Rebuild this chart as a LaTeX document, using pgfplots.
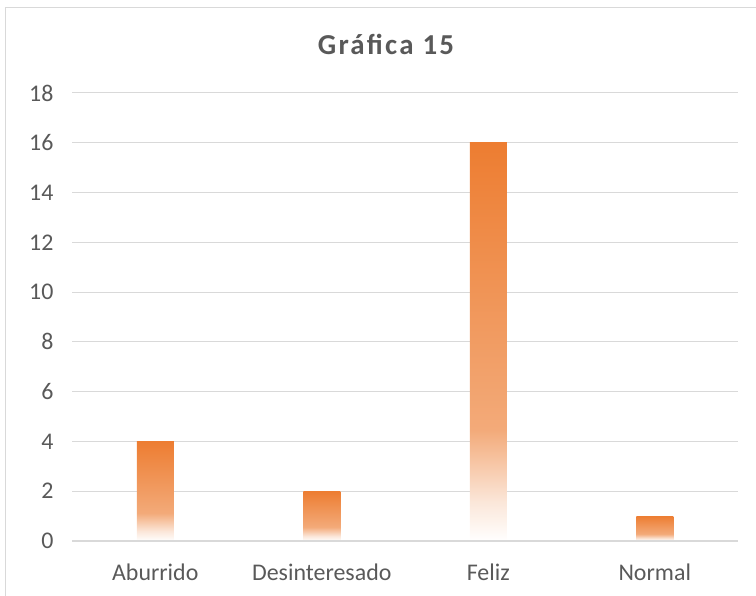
\documentclass[border=0pt]{standalone}
\usepackage{fontspec}
\setmainfont{Carlito}
\newfontfamily\titlefont[LetterSpace=8]{Carlito}
\usepackage{pgfplots}
\pgfplotsset{compat=1.18}
\definecolor{barC}{HTML}{ED7D31}
\definecolor{barA}{HTML}{FBE6D8}
\definecolor{barB}{HTML}{F3AA79}
\definecolor{txt}{HTML}{595959}
\definecolor{gridc}{HTML}{D9D9D9}
\pgfdeclareverticalshading{barfade}{100bp}{color(0bp)=(white); color(25bp)=(white); color(30bp)=(barA); color(39bp)=(barB); color(75bp)=(barC); color(100bp)=(barC)}
\tikzset{mybar/.style={ybar, bar width=37bp, draw=none, shade, shading=barfade, mark=none}}
\begin{document}
\begin{tikzpicture}[x=1bp,y=1bp]
\useasboundingbox (0,0) rectangle (756,596);
\draw[gridc, line width=1bp] (5,-10) rectangle (770,588);
\node[anchor=base, text=txt, font=\titlefont\bfseries\fontsize{29}{31}\selectfont] at (386,541) {Gráfica 15};
\begin{axis}[
  at={(72bp,55bp)}, anchor=south west,
  scale only axis, width=666bp, height=448bp,
  xmin=-0.5, xmax=3.5, ymin=0, ymax=18,
  ytick={0,2,...,18},
  xtick={0,1,2,3},
  xticklabels={Aburrido,Desinteresado,Feliz,Normal},
  axis line style={draw=none},
  major tick length=0pt,
  ymajorgrids,
  grid style={gridc, line width=1bp},
  tick label style={text=txt, font=\fontsize{24}{26}\selectfont},
  yticklabel style={xshift=-15bp},
  xticklabel style={yshift=-19bp},
  /pgf/number format/assume math mode=true,
  clip=false,
]
\addplot[mybar] coordinates {(0,4)};
\addplot[mybar] coordinates {(1,2)};
\addplot[mybar] coordinates {(2,16)};
\addplot[mybar] coordinates {(3,1)};
\draw[gridc, line width=1.6bp] (axis cs:-0.5,0) -- (axis cs:3.5,0);
\end{axis}
\end{tikzpicture}
\end{document}
